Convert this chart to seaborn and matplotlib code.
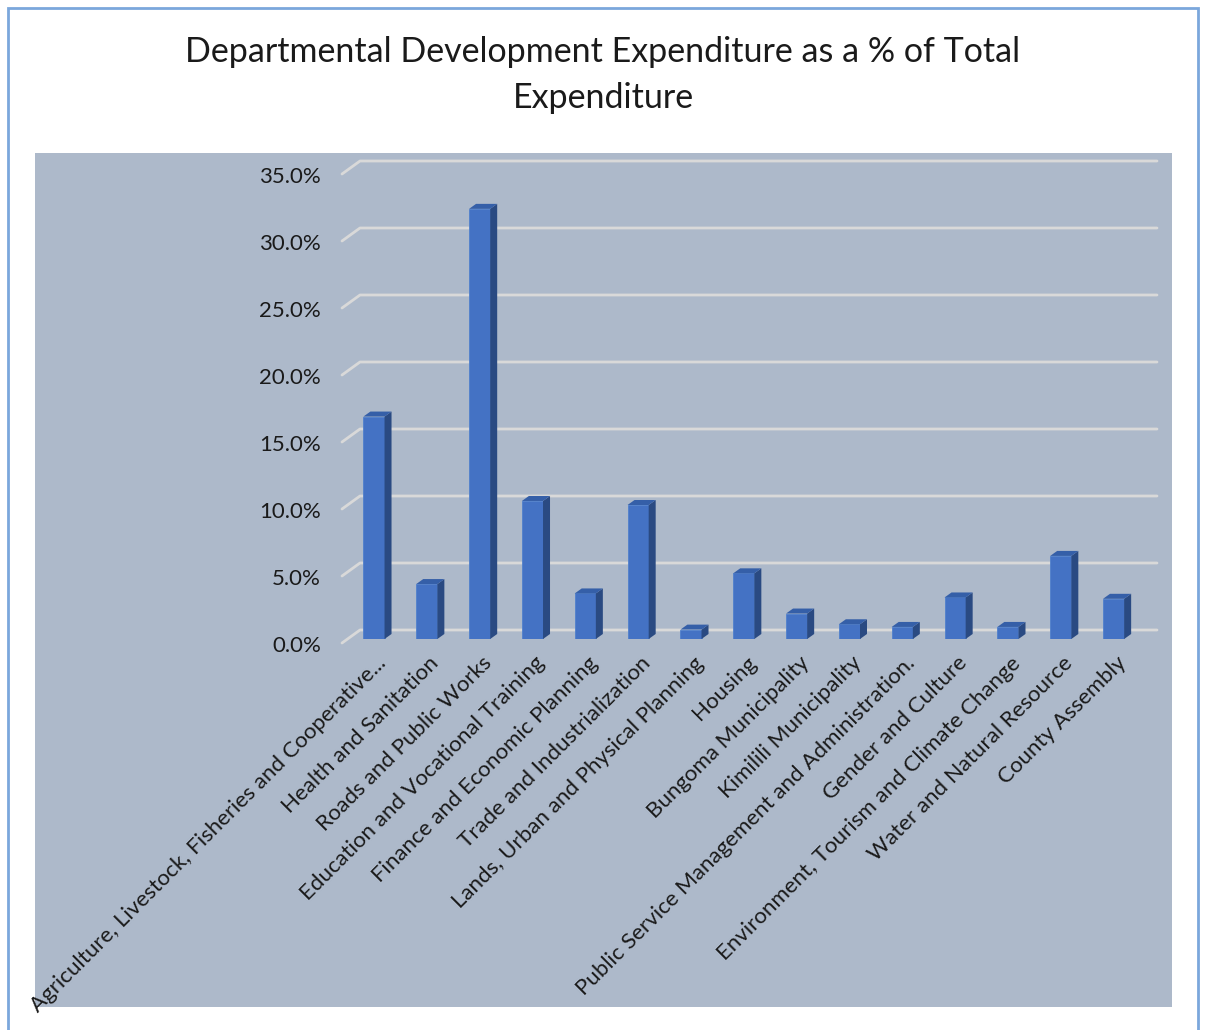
import numpy as np
import pandas as pd
import seaborn as sns
import matplotlib.pyplot as plt
from matplotlib.patches import Rectangle, Polygon
from matplotlib.transforms import IdentityTransform, ScaledTranslation
from matplotlib.ticker import PercentFormatter

# datos
departamentos = [
    "Agriculture, Livestock, Fisheries and Cooperative...",
    "Health and Sanitation",
    "Roads and Public Works",
    "Education and Vocational Training",
    "Finance and Economic Planning",
    "Trade and Industrialization",
    "Lands, Urban and Physical Planning",
    "Housing",
    "Bungoma Municipality",
    "Kimilili Municipality",
    "Public Service Management and Administration.",
    "Gender and Culture",
    "Environment, Tourism and Climate Change",
    "Water and Natural Resource",
    "County Assembly",
]
porcentaje = [0.166, 0.041, 0.321, 0.103, 0.034, 0.100, 0.007, 0.049,
              0.019, 0.011, 0.009, 0.031, 0.009, 0.062, 0.030]
marcas_y = [0.0, 0.05, 0.10, 0.15, 0.20, 0.25, 0.30, 0.35]

datos = pd.DataFrame({"dep": departamentos, "pct": porcentaje})

sns.set_style("white")
plt.rcParams['font.family'] = ['Lato', 'DejaVu Sans']

W, H = 1206, 1030
fig = plt.figure(figsize=(W / 100, H / 100), dpi=100)

def fx(x):
    return x / W

def fy(y):
    return 1 - y / H

# borde exterior y area de trazado
fig.patches.append(Rectangle((fx(8), fy(1040)), fx(1198) - fx(8), fy(8) - fy(1040),
                             transform=fig.transFigure, fill=False,
                             edgecolor='#7BA7DC', linewidth=2, zorder=-2))
fig.patches.append(Rectangle((fx(35), fy(1007)), fx(1172) - fx(35), fy(153) - fy(1007),
                             transform=fig.transFigure, facecolor='#ADB9CA',
                             edgecolor='none', zorder=-2))

fig.text(0.5, fy(75), "Departmental Development Expenditure as a % of Total\nExpenditure",
         ha='center', va='center', fontsize=24.5, color='#1a1a1a', linespacing=1.5)

ax = fig.add_axes([fx(342), fy(639), fx(1140) - fx(342), fy(170) - fy(639)])
ax.set_facecolor('none')

sns.barplot(data=datos, x="dep", y="pct", color='#4472C4', width=0.4,
            saturation=1, ax=ax, zorder=3, edgecolor='#5080CC', linewidth=0.6)
ax.set_xlim(-0.605, 14.5)
ax.set_ylim(0, 0.35)
ax.set_yticks(marcas_y)
ax.yaxis.set_major_formatter(PercentFormatter(1.0, decimals=1))
ax.set_xlabel("")
ax.set_ylabel("")
for s in ax.spines.values():
    s.set_visible(False)
ax.tick_params(axis='y', length=0, pad=15, labelsize=16, labelcolor='#1a1a1a')
ax.tick_params(axis='x', length=0, pad=10, labelsize=16, labelcolor='#1a1a1a')
plt.setp(ax.get_xticklabels(), rotation=45, ha='right', rotation_mode='anchor')
for lbl in ax.get_xticklabels():
    lbl.set_transform(lbl.get_transform() + ScaledTranslation(0.02, 0, fig.dpi_scale_trans))
for lbl in ax.get_yticklabels():
    lbl.set_transform(lbl.get_transform() + ScaledTranslation(0, -0.05, fig.dpi_scale_trans))

fig.canvas.draw()
ident = IdentityTransform()

# lineas de division con efecto 3D
for v in marcas_y:
    yd = ax.transData.transform((0, v))[1]
    ax.add_line(plt.Line2D([342, 360, 1157], [yd - 4, yd + 9, yd + 9],
                           transform=ident, color='#D9D9D9', linewidth=2,
                           clip_on=False, zorder=1))

# caras lateral y superior de cada barra
dx, dy = 7, 5
for p in list(ax.patches):
    x0, x1 = p.get_x(), p.get_x() + p.get_width()
    h = p.get_height()
    (a, b0) = ax.transData.transform((x0, 0))
    (c, b1) = ax.transData.transform((x1, h))
    lado = Polygon([(c, b0), (c + dx, b0 + dy), (c + dx, b1 + dy), (c, b1)],
                   closed=True, transform=ident, facecolor='#2A4A82',
                   edgecolor='none', clip_on=False, zorder=4)
    tapa = Polygon([(a, b1), (a + dx, b1 + dy), (c + dx, b1 + dy), (c, b1)],
                   closed=True, transform=ident, facecolor='#355FA8',
                   edgecolor='none', clip_on=False, zorder=4)
    ax.add_patch(lado)
    ax.add_patch(tapa)

fig.savefig("out.png", dpi=100)
plt.close()
